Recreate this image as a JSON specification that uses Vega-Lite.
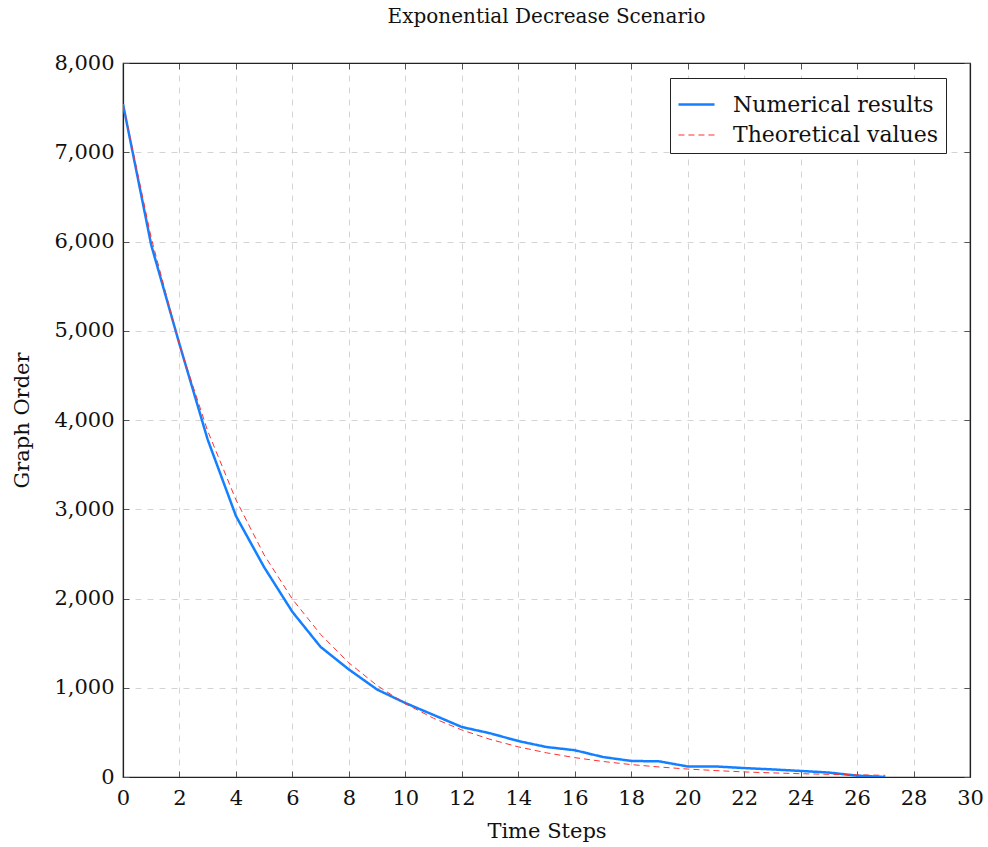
{
  "$schema": "https://vega.github.io/schema/vega-lite/v6.json",
  "width": 847,
  "height": 714,
  "autosize": {"type": "none"},
  "padding": {"left": 123, "top": 63, "right": 18, "bottom": 70},
  "background": "white",
  "title": {"text": "Exponential Decrease Scenario", "font": "DejaVu Serif", "fontSize": 20, "fontWeight": "normal", "color": "#111", "offset": 25},
  "config": {
    "view": {"stroke": "#222", "strokeWidth": 1.2},
    "font": "DejaVu Serif",
    "axis": {
      "labelFont": "DejaVu Serif", "labelFontSize": 21, "labelColor": "#111", "labelFlush": false,
      "titleFont": "DejaVu Serif", "titleFontSize": 21, "titleFontWeight": "normal", "titleColor": "#111",
      "gridColor": "#d4d4d4", "gridDash": [6, 6], "gridWidth": 1,
      "tickSize": -6, "tickColor": "#555", "domain": true, "domainColor": "#222", "domainWidth": 1.2
    }
  },
  "data": {"values": [
    {"t": 0, "v": 7540, "s": "Numerical results"},
    {"t": 1, "v": 5960, "s": "Numerical results"},
    {"t": 2, "v": 4850, "s": "Numerical results"},
    {"t": 3, "v": 3780, "s": "Numerical results"},
    {"t": 4, "v": 2925, "s": "Numerical results"},
    {"t": 5, "v": 2350, "s": "Numerical results"},
    {"t": 6, "v": 1850, "s": "Numerical results"},
    {"t": 7, "v": 1457, "s": "Numerical results"},
    {"t": 8, "v": 1205, "s": "Numerical results"},
    {"t": 9, "v": 980, "s": "Numerical results"},
    {"t": 10, "v": 829, "s": "Numerical results"},
    {"t": 11, "v": 695, "s": "Numerical results"},
    {"t": 12, "v": 560, "s": "Numerical results"},
    {"t": 13, "v": 490, "s": "Numerical results"},
    {"t": 14, "v": 403, "s": "Numerical results"},
    {"t": 15, "v": 336, "s": "Numerical results"},
    {"t": 16, "v": 300, "s": "Numerical results"},
    {"t": 17, "v": 224, "s": "Numerical results"},
    {"t": 18, "v": 180, "s": "Numerical results"},
    {"t": 19, "v": 175, "s": "Numerical results"},
    {"t": 20, "v": 118, "s": "Numerical results"},
    {"t": 21, "v": 118, "s": "Numerical results"},
    {"t": 22, "v": 100, "s": "Numerical results"},
    {"t": 23, "v": 85, "s": "Numerical results"},
    {"t": 24, "v": 68, "s": "Numerical results"},
    {"t": 25, "v": 50, "s": "Numerical results"},
    {"t": 26, "v": 15, "s": "Numerical results"},
    {"t": 27, "v": 0, "s": "Numerical results"},
    {"t": 0, "v": 7540, "s": "Theoretical values"},
    {"t": 1, "v": 6040, "s": "Theoretical values"},
    {"t": 2, "v": 4839, "s": "Theoretical values"},
    {"t": 3, "v": 3877, "s": "Theoretical values"},
    {"t": 4, "v": 3106, "s": "Theoretical values"},
    {"t": 5, "v": 2488, "s": "Theoretical values"},
    {"t": 6, "v": 1993, "s": "Theoretical values"},
    {"t": 7, "v": 1597, "s": "Theoretical values"},
    {"t": 8, "v": 1279, "s": "Theoretical values"},
    {"t": 9, "v": 1025, "s": "Theoretical values"},
    {"t": 10, "v": 821, "s": "Theoretical values"},
    {"t": 11, "v": 658, "s": "Theoretical values"},
    {"t": 12, "v": 527, "s": "Theoretical values"},
    {"t": 13, "v": 422, "s": "Theoretical values"},
    {"t": 14, "v": 338, "s": "Theoretical values"},
    {"t": 15, "v": 271, "s": "Theoretical values"},
    {"t": 16, "v": 217, "s": "Theoretical values"},
    {"t": 17, "v": 174, "s": "Theoretical values"},
    {"t": 18, "v": 139, "s": "Theoretical values"},
    {"t": 19, "v": 112, "s": "Theoretical values"},
    {"t": 20, "v": 89, "s": "Theoretical values"},
    {"t": 21, "v": 72, "s": "Theoretical values"},
    {"t": 22, "v": 57, "s": "Theoretical values"},
    {"t": 23, "v": 46, "s": "Theoretical values"},
    {"t": 24, "v": 37, "s": "Theoretical values"},
    {"t": 25, "v": 30, "s": "Theoretical values"},
    {"t": 26, "v": 24, "s": "Theoretical values"},
    {"t": 27, "v": 19, "s": "Theoretical values"}
  ]},
  "layer": [
    {
      "mark": {"type": "line", "clip": true},
      "encoding": {
        "x": {"field": "t", "type": "quantitative", "title": "Time Steps",
          "scale": {"domain": [0, 30], "nice": false},
          "axis": {"values": [0,2,4,6,8,10,12,14,16,18,20,22,24,26,28,30], "format": "d", "titleY": 43, "labelPadding": 16}},
        "y": {"field": "v", "type": "quantitative", "title": "Graph Order",
          "scale": {"domain": [0, 8000], "nice": false},
          "axis": {"values": [0,1000,2000,3000,4000,5000,6000,7000,8000], "format": ",d", "titleX": -91, "labelPadding": 15}},
        "color": {"field": "s", "type": "nominal", "title": null,
          "scale": {"domain": ["Numerical results", "Theoretical values"], "range": ["#1480ff", "#ff3030"]},
          "legend": {"orient": "none", "legendX": 547, "legendY": 15, "strokeColor": "#222", "padding": 7,
            "labelFont": "DejaVu Serif", "labelFontSize": 22, "labelColor": "#111", "labelLimit": 0, "symbolType": "stroke",
            "symbolSize": 1300, "rowPadding": -2, "fillColor": "white", "labelOffset": 17}},
        "strokeDash": {"field": "s", "type": "nominal", "title": null,
          "scale": {"domain": ["Numerical results", "Theoretical values"], "range": [[1, 0], [6, 4]]}},
        "strokeWidth": {"field": "s", "type": "nominal", "title": null,
          "scale": {"domain": ["Numerical results", "Theoretical values"], "range": [2.5, 1]}}
      }
    },
    {
      "mark": {"type": "line", "opacity": 0},
      "encoding": {
        "x": {"field": "t", "type": "quantitative",
          "axis": {"orient": "top", "values": [0,2,4,6,8,10,12,14,16,18,20,22,24,26,28,30], "labels": false, "title": null, "grid": false}},
        "y": {"field": "v", "type": "quantitative",
          "axis": {"orient": "right", "values": [0,1000,2000,3000,4000,5000,6000,7000,8000], "labels": false, "title": null, "grid": false}}
      }
    }
  ],
  "resolve": {"axis": {"x": "independent", "y": "independent"}}
}
